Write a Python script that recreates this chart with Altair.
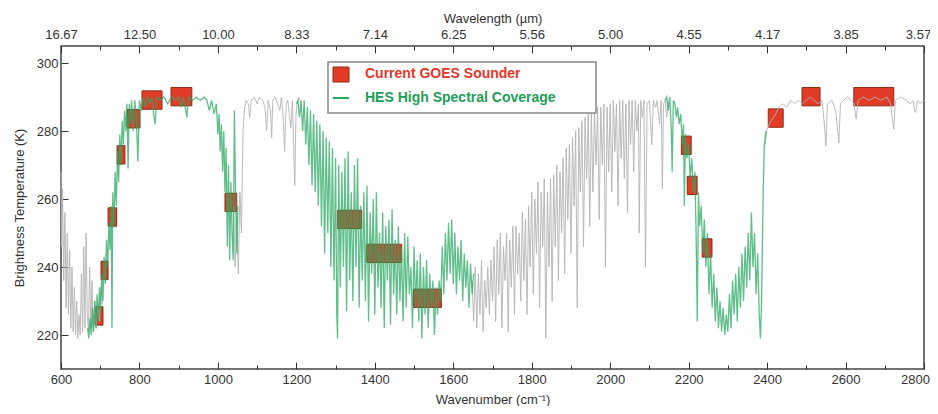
import altair as alt
import pandas as pd

FONT = "Liberation Sans"

# ---------------- data ----------------
# wavenumber (cm-1), brightness temperature (K)
gray_seg1 = [(600, 268), (602, 246), (604, 263), (607, 236), (610, 256), (613, 228), (616, 250),
             (619, 226), (622, 245), (625, 222), (628, 240), (631, 221), (634, 234), (637, 220),
             (640, 230), (643, 219), (646, 226), (649, 220), (652, 238), (655, 221), (658, 246),
             (661, 222), (664, 250), (667, 226), (670, 221), (673, 240), (676, 222), (679, 236),
             (682, 221), (686, 230), (690, 222), (694, 229), (698, 224), (702, 234), (706, 229)]

gray_seg2 = [(1040, 258), (1044, 240), (1048, 256), (1052, 238), (1056, 262), (1060, 250), (1064, 280),
             (1068, 287), (1072, 289), (1078, 288), (1081, 284), (1085, 289), (1092, 290), (1100, 288),
             (1106, 290), (1114, 289), (1120, 287), (1124, 280), (1128, 289), (1134, 286), (1137, 278),
             (1140, 289), (1146, 290), (1152, 288), (1158, 286), (1162, 290), (1166, 285), (1170, 274),
             (1174, 288), (1178, 289), (1183, 284), (1186, 281), (1190, 289), (1193, 276), (1196, 264),
             (1199, 285), (1202, 288), (1206, 290), (1210, 289)]

gray_seg3 = [(1648, 236), (1652, 224), (1656, 240), (1660, 222), (1664, 238), (1668, 226), (1672, 242),
             (1676, 221), (1680, 236), (1684, 228), (1688, 240), (1692, 226), (1696, 242), (1700, 230),
             (1704, 246), (1708, 224), (1712, 248), (1716, 232), (1720, 250), (1724, 222), (1728, 246),
             (1732, 236), (1736, 250), (1740, 221), (1744, 248), (1748, 234), (1752, 252), (1756, 226),
             (1760, 252), (1764, 238), (1768, 250), (1772, 230), (1776, 256), (1780, 236), (1784, 254),
             (1788, 226), (1792, 258), (1796, 240), (1800, 262), (1804, 232), (1808, 260), (1812, 244),
             (1816, 265), (1820, 228), (1824, 262), (1828, 246), (1832, 266), (1836, 219), (1840, 262),
             (1844, 240), (1848, 266), (1852, 230), (1856, 267), (1860, 246), (1864, 270), (1868, 236),
             (1872, 268), (1876, 250), (1880, 272), (1884, 238), (1888, 275), (1892, 254), (1896, 276),
             (1900, 244), (1904, 278), (1908, 258), (1912, 280), (1916, 228), (1920, 281), (1924, 262),
             (1928, 283), (1932, 246), (1936, 284), (1940, 266), (1944, 285), (1948, 252), (1952, 286),
             (1956, 262), (1960, 286), (1964, 270), (1968, 287), (1972, 254), (1976, 287), (1980, 270),
             (1984, 288), (1988, 240), (1992, 287), (1996, 268), (2000, 288), (2004, 262), (2008, 289),
             (2012, 274), (2016, 288), (2020, 258), (2024, 289), (2028, 272), (2032, 289), (2036, 266),
             (2040, 288), (2044, 256), (2048, 289), (2052, 276), (2056, 289), (2060, 268), (2064, 289),
             (2068, 280), (2072, 288), (2074, 250), (2078, 289), (2082, 284), (2086, 289), (2090, 240),
             (2094, 288), (2100, 289), (2106, 276), (2110, 289), (2116, 287), (2120, 289), (2126, 282),
             (2130, 289), (2133, 263), (2136, 288), (2140, 289), (2144, 284), (2148, 289)]

gray_seg4 = [(2395, 276), (2400, 280.5), (2405, 282), (2410, 283), (2416, 284), (2422, 285), (2430, 287),
             (2440, 288), (2450, 287), (2460, 289), (2470, 288), (2480, 289), (2490, 288), (2500, 289),
             (2510, 290), (2520, 289), (2530, 288), (2540, 289), (2546, 282), (2550, 275.5), (2554, 288),
             (2565, 289), (2575, 286), (2580, 280), (2583, 276.5), (2587, 288), (2595, 289), (2605, 290),
             (2615, 289), (2622, 288), (2627, 283.5), (2632, 289), (2645, 290), (2660, 289), (2675, 290),
             (2690, 289), (2705, 290), (2715, 288), (2720, 283), (2723, 280.5), (2727, 289), (2740, 290),
             (2755, 289), (2765, 288), (2772, 289), (2776, 286), (2779, 285.5), (2783, 289), (2790, 288),
             (2800, 289)]

green_seg1 = [(668, 222), (671, 219), (674, 225), (677, 220), (680, 228), (683, 221), (686, 230),
              (689, 222), (692, 232), (695, 224), (698, 234), (701, 227), (704, 238), (707, 230),
              (710, 243), (713, 235), (716, 248), (719, 240), (722, 253), (725, 245), (728, 258),
              (730, 222), (732, 262), (735, 252), (738, 268), (741, 258), (744, 274), (747, 265),
              (750, 279), (753, 270), (756, 283), (759, 276), (762, 286), (765, 280), (768, 288),
              (771, 269), (774, 288), (777, 282), (780, 289), (784, 280), (788, 289), (792, 284),
              (796, 271), (800, 289), (805, 286), (810, 290), (815, 287), (820, 290), (826, 288),
              (832, 290), (836, 285), (840, 282), (844, 290), (852, 289), (862, 290), (872, 288),
              (882, 290), (892, 289), (900, 290), (906, 287), (912, 290), (918, 286), (921, 284),
              (925, 290), (935, 289), (945, 290), (955, 289), (965, 290), (972, 289), (978, 286),
              (984, 289), (990, 285), (996, 288), (1000, 279), (1003, 285), (1006, 274), (1009, 282),
              (1012, 268), (1015, 280), (1018, 262), (1021, 275), (1024, 246), (1027, 270), (1030, 242),
              (1033, 265), (1036, 250), (1039, 242), (1042, 286), (1045, 262), (1048, 244), (1051, 258)]

green_seg2 = [(1200, 288), (1204, 289), (1208, 284), (1212, 289), (1216, 280), (1220, 289), (1224, 276),
              (1228, 287), (1232, 270), (1236, 286), (1240, 264), (1244, 285), (1248, 262), (1252, 283),
              (1256, 258), (1260, 282), (1264, 252), (1268, 280), (1272, 244), (1276, 278), (1280, 250),
              (1284, 277), (1288, 240), (1292, 275), (1296, 236), (1300, 272), (1303, 226), (1305, 219),
              (1308, 270), (1312, 234), (1316, 268), (1320, 240), (1324, 272), (1328, 227), (1332, 274),
              (1336, 236), (1340, 262), (1344, 230), (1348, 270), (1352, 240), (1356, 272), (1360, 228),
              (1364, 258), (1368, 236), (1372, 262), (1376, 230), (1380, 264), (1384, 224), (1388, 256),
              (1392, 238), (1396, 260), (1400, 226), (1404, 262), (1408, 234), (1412, 250), (1416, 228),
              (1420, 256), (1424, 222), (1428, 252), (1432, 236), (1436, 254), (1440, 223), (1444, 257),
              (1448, 232), (1452, 248), (1456, 226), (1460, 252), (1464, 230), (1468, 246), (1472, 224),
              (1476, 250), (1480, 228), (1484, 249), (1488, 232), (1492, 240), (1496, 222), (1500, 246),
              (1504, 228), (1508, 242), (1512, 224), (1516, 244), (1520, 219), (1524, 240), (1528, 226),
              (1532, 242), (1536, 222), (1540, 238), (1544, 228), (1548, 236), (1552, 220), (1556, 234),
              (1560, 226), (1564, 236), (1568, 230), (1572, 246), (1576, 232), (1580, 250), (1584, 236),
              (1588, 253), (1592, 238), (1596, 254), (1600, 235), (1604, 250), (1608, 232), (1612, 246),
              (1616, 236), (1620, 248), (1624, 230), (1628, 244), (1632, 234), (1636, 242), (1640, 228),
              (1644, 241), (1648, 232), (1652, 238)]

green_seg3 = [(2140, 289), (2144, 290), (2148, 286), (2152, 290), (2156, 280), (2158, 268), (2161, 289),
              (2165, 288), (2169, 284), (2172, 287), (2176, 282), (2180, 285), (2184, 276), (2187, 282),
              (2189, 258), (2192, 279), (2196, 272), (2200, 276), (2204, 266), (2208, 272), (2212, 262),
              (2216, 268), (2219, 250), (2222, 224), (2225, 262), (2228, 252), (2232, 258), (2236, 244),
              (2240, 254), (2244, 240), (2248, 250), (2252, 232), (2256, 244), (2260, 228), (2264, 238),
              (2268, 224), (2272, 234), (2276, 222), (2280, 230), (2284, 221), (2288, 228), (2292, 220),
              (2296, 226), (2300, 221), (2304, 232), (2308, 222), (2312, 236), (2316, 226), (2320, 238),
              (2324, 224), (2328, 240), (2332, 228), (2336, 244), (2340, 230), (2344, 246), (2348, 234),
              (2352, 250), (2356, 236), (2360, 256), (2364, 240), (2368, 250), (2372, 232), (2376, 244),
              (2380, 226), (2383, 219), (2386, 230), (2390, 262), (2393, 276), (2397, 280)]

# GOES sounder channels: centre wavenumber, band width, brightness temperature
goes_wn = [697, 711, 731, 753, 785, 832, 907, 1033, 1336, 1424, 1534, 2194, 2209, 2247, 2422, 2512, 2672]
goes_bw = [20, 18, 22, 20, 33, 51, 53, 30, 61, 89, 71, 25, 25, 25, 38, 46, 102]
goes_tb = [225.6, 239, 254.7, 273, 283.6, 289.1, 290.1, 259, 254, 244, 230.8, 275.8, 264, 245.6, 283.8, 290.1, 290.1]

legend_labels = ["Current GOES Sounder", "HES High Spectral Coverage"]
major_ticks = [600, 800, 1000, 1200, 1400, 1600, 1800, 2000, 2200, 2400, 2600, 2800]
minor_ticks = [700, 900, 1100, 1300, 1500, 1700, 1900, 2100, 2300, 2500, 2700]
y_ticks = [220, 240, 260, 280, 300]

# ---------------- frames ----------------
def to_frame(segs, name):
    rows = []
    for i, seg in enumerate(segs):
        for wn, tb in seg:
            rows.append({"wn": wn, "tb": tb, "seg": f"{name}{i}"})
    return pd.DataFrame(rows)

gray_df = to_frame([gray_seg1, gray_seg2, gray_seg3, gray_seg4], "g")
green_df = to_frame([green_seg1, green_seg2, green_seg3], "h")

goes_df = pd.DataFrame({"wn": goes_wn, "bw": goes_bw, "tb": goes_tb})
goes_df["x1"] = goes_df["wn"] - goes_df["bw"] / 2
goes_df["x2"] = goes_df["wn"] + goes_df["bw"] / 2
goes_df["y1"] = goes_df["tb"] - 2.7
goes_df["y2"] = goes_df["tb"] + 2.7

W, H = 863, 323
xs = alt.Scale(domain=[600, 2800], nice=False, zero=False)
ys = alt.Scale(domain=[210, 305], nice=False, zero=False)

GREEN = "#2aa862"
RED = "#e23b26"

common = dict(domain=False, grid=False, tickColor="#333", tickWidth=1,
              labelFont=FONT, labelFontSize=13, labelColor="#333",
              titleFont=FONT, titleFontSize=13, titleColor="#333", titleFontWeight="normal")

last_shift = {"condition": {"test": "datum.value >= 2800", "value": -9}, "value": 0}

ax_bottom = alt.Axis(orient="bottom", values=major_ticks, format="d", tickSize=7, offset=-7,
                     labelPadding=4, labelFlush=False, labelOffset=last_shift,
                     title="Wavenumber (cm⁻¹)", titlePadding=7, **common)
ax_top = alt.Axis(orient="top", values=major_ticks, labelExpr="format(10000 / datum.value, '.2f')",
                  tickSize=7, offset=-7, labelPadding=5, labelFlush=False,
                  labelOffset={"condition": {"test": "datum.value >= 2800", "value": -6}, "value": 0},
                  title="Wavelength (µm)", titlePadding=3, **common)
ax_bottom_minor = alt.Axis(orient="bottom", values=minor_ticks, labels=False, tickSize=4, offset=-4,
                           title="", **common)
ax_top_minor = alt.Axis(orient="top", values=minor_ticks, labels=False, tickSize=4, offset=-4,
                        title="", **common)
ax_left = alt.Axis(orient="left", values=y_ticks, tickSize=7, offset=-7, labelPadding=3,
                   title="Brightness Temperature (K)", titlePadding=10, **common)

boxes = alt.Chart(goes_df).mark_rect(fill=RED, stroke="#8e2a14", strokeWidth=1).encode(
    x=alt.X("x1:Q", scale=xs, axis=ax_bottom), x2="x2:Q",
    y=alt.Y("y1:Q", scale=ys, axis=ax_left), y2="y2:Q")

gray = alt.Chart(gray_df).mark_line(color="#b4b4b4", strokeWidth=1, opacity=0.9).encode(
    x=alt.X("wn:Q", scale=xs, axis=ax_top),
    y=alt.Y("tb:Q", scale=ys, axis=None),
    detail="seg:N")

green = alt.Chart(green_df).mark_line(color=GREEN, strokeWidth=1.3, opacity=0.75).encode(
    x=alt.X("wn:Q", scale=xs, axis=ax_bottom_minor),
    y=alt.Y("tb:Q", scale=ys, axis=None),
    detail="seg:N")

top_minor = alt.Chart(goes_df).mark_point(opacity=0).encode(
    x=alt.X("wn:Q", scale=xs, axis=ax_top_minor),
    y=alt.Y("tb:Q", scale=ys, axis=None))

one = pd.DataFrame({"k": [0]})
leg_box = alt.Chart(one).mark_rect(fill="white", stroke="#888", strokeWidth=1.5).encode(
    x=alt.value(267), x2=alt.value(535), y=alt.value(16), y2=alt.value(67))
leg_sq = alt.Chart(one).mark_rect(fill=RED, stroke="#8e2a14", strokeWidth=1).encode(
    x=alt.value(272), x2=alt.value(288), y=alt.value(21), y2=alt.value(36))
leg_ln = alt.Chart(one).mark_rule(color=GREEN, strokeWidth=2).encode(
    x=alt.value(272), x2=alt.value(288), y=alt.value(52))
leg_t1 = alt.Chart(one).mark_text(align="left", baseline="middle", font=FONT, fontSize=14,
                                  fontWeight="bold", color="#e8352a").encode(
    x=alt.value(304), y=alt.value(28), text=alt.value(legend_labels[0]))
leg_t2 = alt.Chart(one).mark_text(align="left", baseline="middle", font=FONT, fontSize=14,
                                  fontWeight="bold", color="#1f9e57").encode(
    x=alt.value(304), y=alt.value(52), text=alt.value(legend_labels[1]))

chart = alt.layer(boxes, gray, green, top_minor, leg_box, leg_sq, leg_ln, leg_t1, leg_t2).resolve_axis(
    x="independent", y="independent"
).properties(
    width=W, height=H,
    autosize=alt.AutoSizeParams(type="none"),
    padding={"left": 53, "top": 38, "right": 6, "bottom": 37},
).configure_view(stroke="#444", strokeWidth=1.5)

chart.save("out.html", embed_options={"renderer": "svg", "actions": False})
